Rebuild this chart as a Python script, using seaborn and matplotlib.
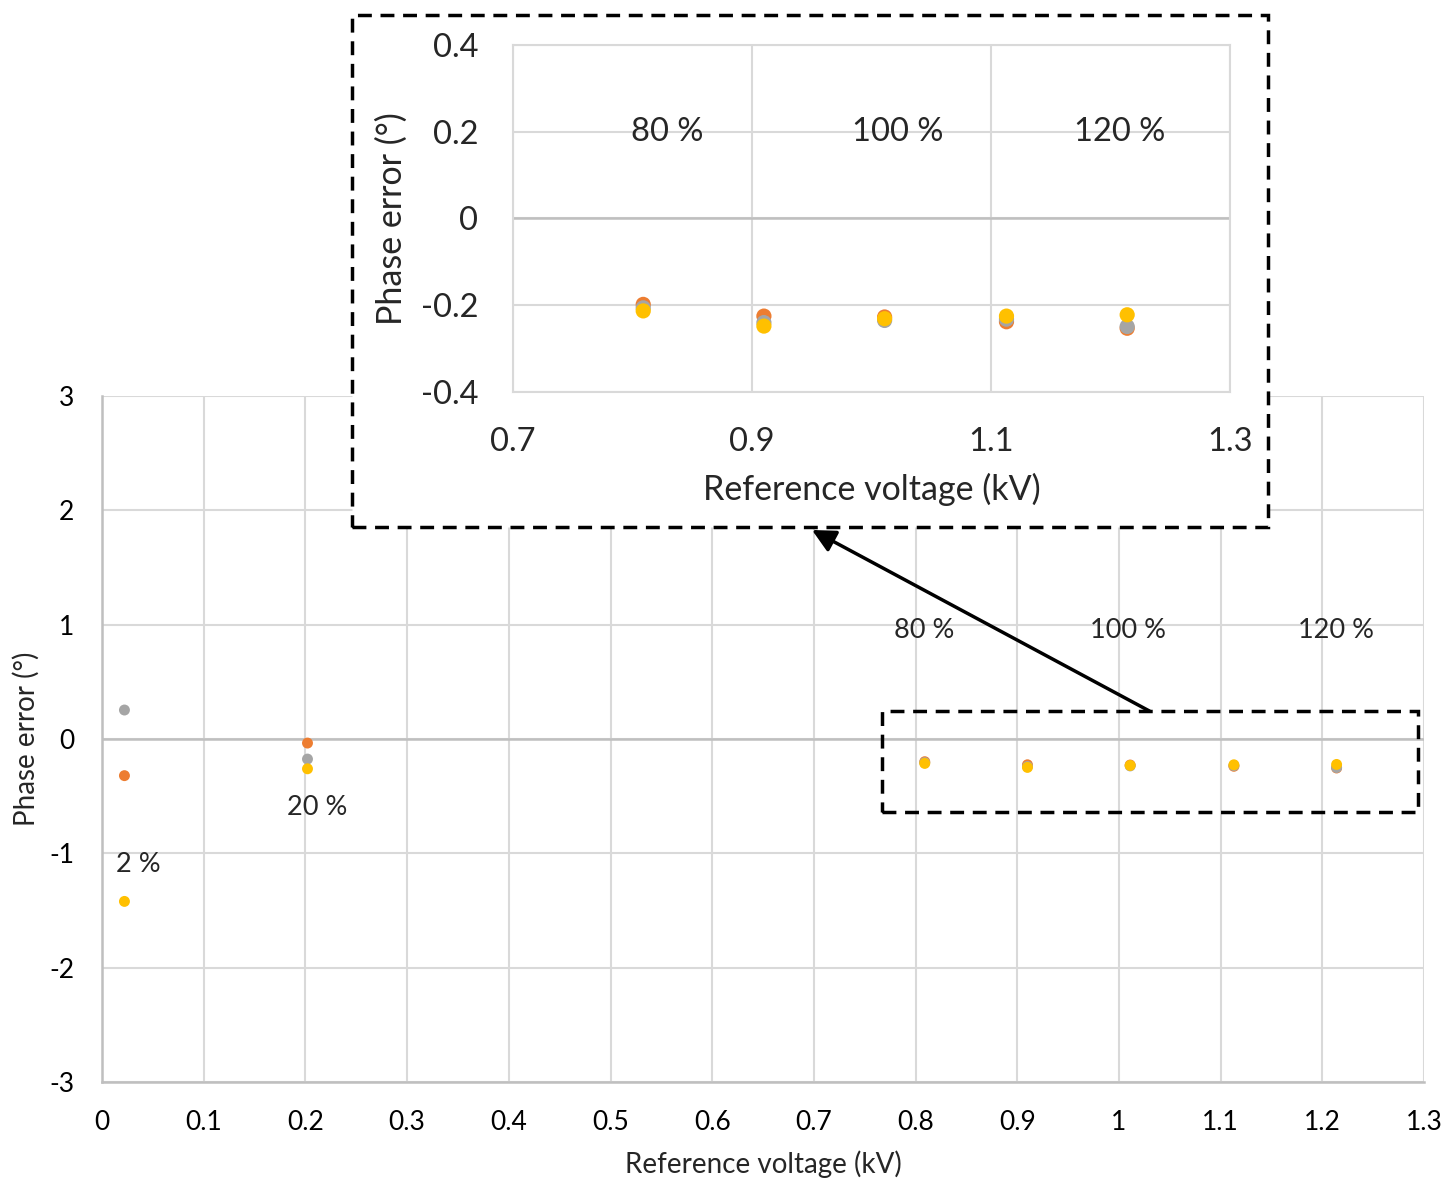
import numpy as np
import pandas as pd
import seaborn as sns
import matplotlib.pyplot as plt
from matplotlib.patches import Rectangle

# reference voltage (kV) and phase errors (deg) per series
voltage = [0.022, 0.202, 0.809, 0.910, 1.011, 1.113, 1.214]
err_orange = [-0.32, -0.035, -0.198, -0.225, -0.227, -0.238, -0.253]
err_gray = [0.254, -0.175, -0.206, -0.240, -0.235, -0.232, -0.249]
err_yellow = [-1.42, -0.26, -0.213, -0.248, -0.231, -0.225, -0.222]
series_names = ["Series 1", "Series 2", "Series 3"]
series_colors = ["#ED7D31", "#A5A5A5", "#FFC000"]

main_xticks = [round(0.1 * i, 1) for i in range(14)]
main_yticks = [-3, -2, -1, 0, 1, 2, 3]
inset_xticks = [0.7, 0.9, 1.1, 1.3]
inset_yticks = [-0.4, -0.2, 0, 0.2, 0.4]

main_labels = [("2 %", 0.036, -1.10), ("20 %", 0.212, -0.60),
               ("80 %", 0.808, 0.95), ("100 %", 1.009, 0.95), ("120 %", 1.213, 0.95)]
inset_labels = [("80 %", 0.829, 0.20), ("100 %", 1.022, 0.20), ("120 %", 1.208, 0.20)]

df = pd.DataFrame({
    "voltage": voltage * 3,
    "error": err_orange + err_gray + err_yellow,
    "series": [s for s in series_names for _ in voltage],
})

sns.set_style("white")
plt.rcParams["font.family"] = ["Lato", "DejaVu Sans"]
plt.rcParams["axes.unicode_minus"] = False
grid_c = "#D9D9D9"

fig = plt.figure(figsize=(14.54, 11.93), dpi=100)

# main chart
ax = fig.add_axes([0.0702, 0.0930, 0.9092, 0.5750])
sns.scatterplot(data=df, x="voltage", y="error", hue="series", hue_order=series_names,
                palette=series_colors, s=62, edgecolor="none", legend=False, ax=ax, zorder=3)
ax.set_xlim(0, 1.3)
ax.set_ylim(-3, 3)
ax.set_xticks(main_xticks)
ax.set_xticklabels([f"{v:g}" for v in main_xticks])
ax.set_yticks(main_yticks)
ax.set_yticklabels([f"{v:g}" for v in main_yticks])
ax.grid(True, color=grid_c, lw=1.5)
ax.axhline(0, color="#BFBFBF", lw=1.8, zorder=1)
for side in ["top", "right"]:
    ax.spines[side].set_visible(False)
for side in ["left", "bottom"]:
    ax.spines[side].set_color("#BFBFBF")
    ax.spines[side].set_linewidth(1.8)
ax.tick_params(length=0, labelsize=19, pad=20, colors="#000000")
ax.set_xlabel("Reference voltage (kV)", fontsize=20)
ax.set_ylabel("Phase error (°)", fontsize=20)
ax.xaxis.set_label_coords(0.5, -0.100)
ax.yaxis.set_label_coords(-0.047, 0.5)
for txt, x, y in main_labels:
    ax.text(x, y, txt, fontsize=19.5, ha="center", va="center", zorder=4)

# zoom region box
ax.add_patch(Rectangle((0.767, -0.64), 1.294 - 0.767, 0.245 + 0.64, fill=False,
                       ls=(0, (4, 2.5)), lw=2.5, ec="black", zorder=5, clip_on=False))

# inset frame
fig.patches.append(Rectangle((0.2421, 0.5583), 0.8721 - 0.2421, 0.9874 - 0.5583,
                             transform=fig.transFigure, fc="white", ec="black",
                             ls=(0, (4, 2.5)), lw=2.5, zorder=6))

ax.annotate("", xy=(812 / 1454, 1 - 530 / 1193), xycoords="figure fraction",
            xytext=(1.030, 0.245), textcoords="data", annotation_clip=False,
            arrowprops=dict(arrowstyle="-|>", lw=2.5, color="black", mutation_scale=35,
                            shrinkA=0, shrinkB=0), zorder=7)

# inset chart
axi = fig.add_axes([0.3528, 0.6714, 0.4931, 0.2909], zorder=8)
sns.scatterplot(data=df, x="voltage", y="error", hue="series", hue_order=series_names,
                palette=series_colors, s=120, edgecolor="none", legend=False, ax=axi, zorder=3)
axi.set_xlim(0.7, 1.3)
axi.set_ylim(-0.4, 0.4)
axi.set_xticks(inset_xticks)
axi.set_xticklabels([f"{v:g}" for v in inset_xticks])
axi.set_yticks(inset_yticks)
axi.set_yticklabels([f"{v:g}" for v in inset_yticks])
axi.grid(True, color=grid_c, lw=1.5)
axi.axhline(0, color="#BFBFBF", lw=1.8, zorder=1)
for side in axi.spines:
    axi.spines[side].set_color(grid_c)
    axi.spines[side].set_linewidth(1.5)
axi.tick_params(length=0, labelsize=23.5, pad=25)
axi.set_xlabel("Reference voltage (kV)", fontsize=24.5)
axi.set_ylabel("Phase error (°)", fontsize=24.5)
axi.xaxis.set_label_coords(0.5, -0.232)
axi.yaxis.set_label_coords(-0.146, 0.5)
for txt, x, y in inset_labels:
    axi.text(x, y, txt, fontsize=23.5, ha="center", va="center")

fig.savefig("out.png", dpi=100)
